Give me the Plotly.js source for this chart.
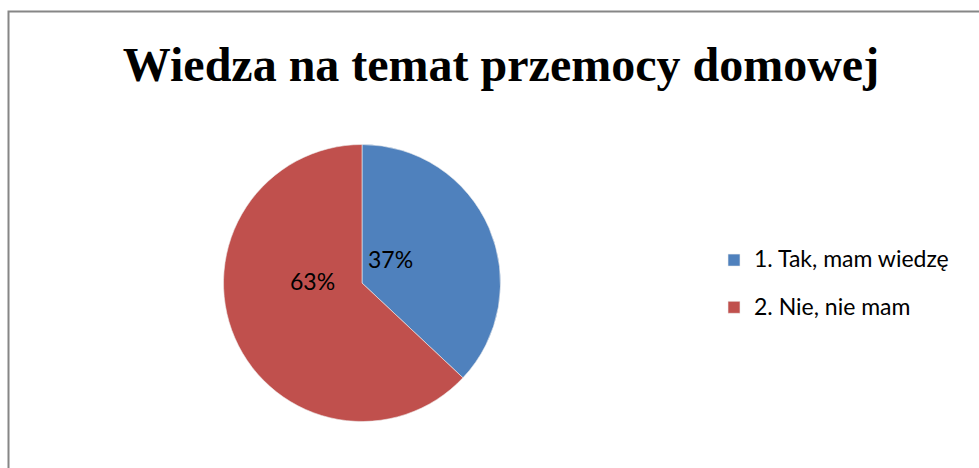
<!DOCTYPE html>
<html>
<head>
<meta charset="utf-8">
<script src="https://cdn.plot.ly/plotly-3.0.1.min.js"></script>
<style>
  html, body { margin: 0; padding: 0; background: #fff; }
  #chart { width: 979px; height: 468px; }
</style>
</head>
<body>
<div id="chart"></div>
<script>
const chartTitle = "Wiedza na temat przemocy domowej";
const categories = ["1. Tak, mam wiedzę", "2. Nie, nie mam"];
const values = [37, 63];
const colors = ["#4F81BD", "#C0504D"];

const W = 979, H = 468;
const cx = 362, cy = 283, r = 138.5;

const total = values.reduce((a, b) => a + b, 0);
const pctText = values.map(v => Math.round(v / total * 100) + "%");

// label placement (Excel "best fit" style)
const labelPos = [[390, 259], [312, 281]];

const trace = {
  type: "pie",
  labels: categories.map(c => "<span style='font-size:23px;baseline-shift:6px'>" + c + "</span>"),
  values: values,
  sort: false,
  direction: "clockwise",
  rotation: 0,
  marker: { colors: colors, line: { color: "#eeeeee", width: 0.6 } },
  textinfo: "none",
  hoverinfo: "label+percent",
  domain: {
    x: [(cx - r) / W, (cx + r) / W],
    y: [(H - cy - r) / H, (H - cy + r) / H]
  }
};

const annotations = pctText.map((t, i) => ({
  text: t,
  xref: "paper", yref: "paper",
  x: labelPos[i][0] / W, y: 1 - labelPos[i][1] / H,
  xanchor: "center", yanchor: "middle",
  showarrow: false,
  font: { family: "Lato, 'Open Sans', sans-serif", size: 23, color: "#000" }
}));

const layout = {
  width: W, height: H,
  margin: { l: 0, r: 0, t: 0, b: 0 },
  paper_bgcolor: "#fff",
  plot_bgcolor: "#fff",
  title: {
    text: "<b>" + chartTitle + "</b>",
    x: 501 / W, xanchor: "center", xref: "container",
    y: 1 - 64 / H, yanchor: "middle", yref: "container",
    font: { family: "'Liberation Serif', 'Times New Roman', serif", size: 48, color: "#000" }
  },
  showlegend: true,
  legend: {
    x: 714 / W, xanchor: "left",
    y: 1 - 284 / H, yanchor: "middle",
    font: { family: "Lato, 'Open Sans', sans-serif", size: 34, color: "#000" },
    bgcolor: "rgba(0,0,0,0)"
  },
  annotations: annotations,
  shapes: [{
    type: "rect", xref: "paper", yref: "paper",
    x0: 8.5 / W, x1: 1.02, y0: -0.05, y1: 1 - 11.5 / H,
    line: { color: "#868686", width: 2 }, fillcolor: "rgba(0,0,0,0)"
  }]
};

Plotly.newPlot("chart", [trace], layout, { displayModeBar: false, staticPlot: true });
</script>
</body>
</html>
